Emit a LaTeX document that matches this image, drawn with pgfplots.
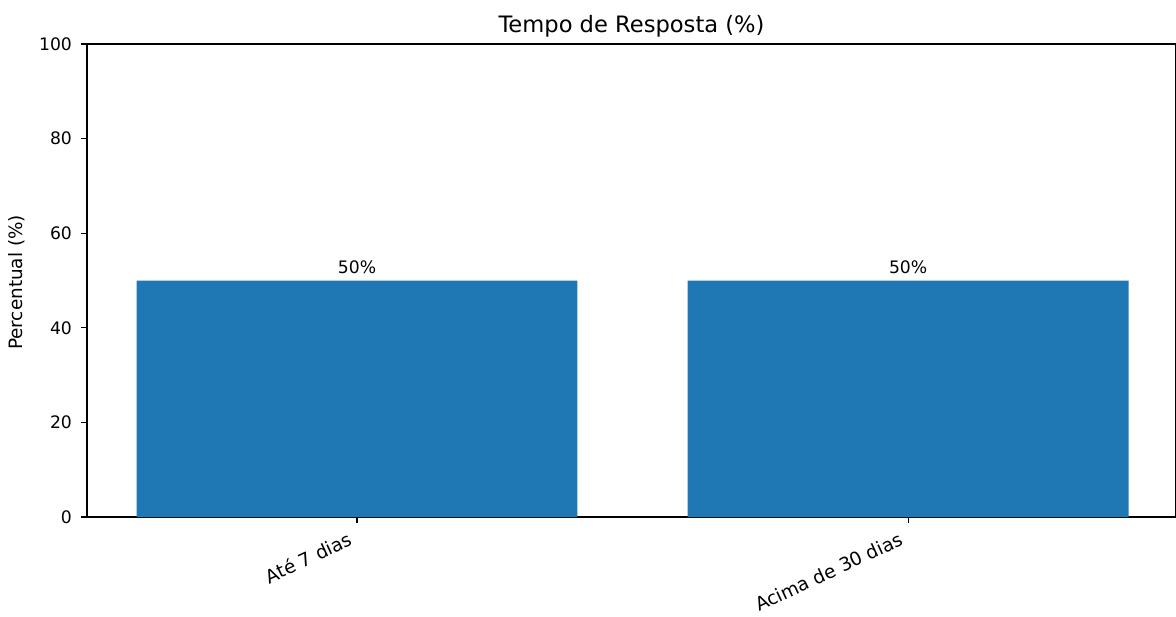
\documentclass[border=0pt]{standalone}
\usepackage{fontspec}
\setmainfont{DejaVu Sans}
\usepackage{pgfplots}
\pgfplotsset{compat=1.18}
\definecolor{mplblue}{HTML}{1F77B4}
\begin{document}
\begin{tikzpicture}
\begin{axis}[
  scale only axis,
  width=544.5pt, height=236.5pt,
  xmin=-0.49, xmax=1.486,
  ymin=0, ymax=100,
  ytick={0,20,40,60,80,100},
  xtick={0,1},
  xtick pos=lower, ytick pos=left,
  xticklabels={Até 7 dias, Acima de 30 dias},
  /pgf/number format/assume math mode=true,
  x tick label style={rotate=25, anchor=north east, font=\fontsize{9.3}{10}\selectfont, inner sep=1pt, yshift=-0.5pt, xshift=-5pt},
  y tick label style={font=\fontsize{8.6}{10}\selectfont, xshift=-1pt},
  tick align=outside,
  major tick length=3pt,
  tick style={black, line width=0.6pt},
  axis line style={line width=0.6pt},
  ybar, bar width=0.8,
  title={Tempo de Resposta (\%)},
  title style={font=\fontsize{11.3}{12}\selectfont, at={(0.5,1)}, anchor=south, yshift=-6pt},
  ylabel={Percentual (\%)},
  ylabel style={font=\fontsize{9.2}{10}\selectfont, xshift=-1pt},
  nodes near coords={\pgfmathprintnumber{\pgfplotspointmeta}\%},
  nodes near coords style={font=\fontsize{8.6}{10}\selectfont, anchor=south, yshift=0pt},
]
\addplot[fill=mplblue, draw=none] coordinates {(0,50) (1,50)};
\end{axis}
\pgfresetboundingbox
\path ([xshift=-43.5pt, yshift=-49.5pt]current axis.south west) rectangle ([yshift=22pt]current axis.north east);
\end{tikzpicture}
\end{document}
